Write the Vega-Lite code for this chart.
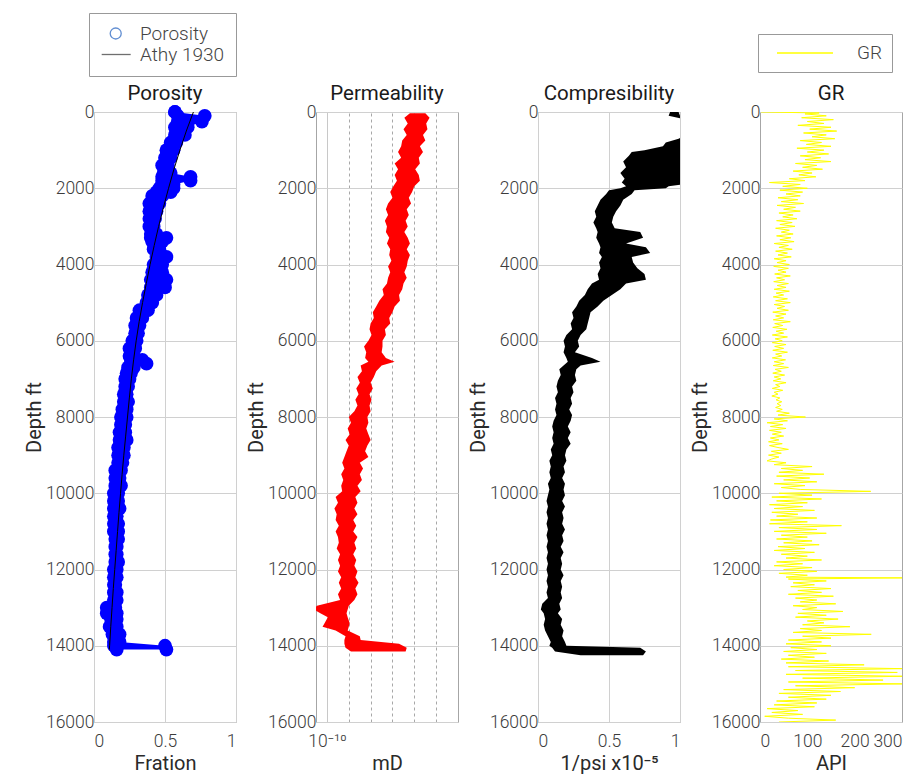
{
  "$schema": "https://vega.github.io/schema/vega-lite/v6.json",
  "background": "white",
  "padding": {"left": 23, "top": 12, "right": 0, "bottom": 5},
  "config": {
    "font": "Roboto",
    "view": {"stroke": "#a6a6a6", "strokeWidth": 1},
    "axis": {"domain": false, "ticks": false, "tickSize": 0, "gridColor": "#d0d0d0", "gridWidth": 1, "labelFontSize": 17.5, "labelColor": "#3c3c3c", "labelFontWeight": 300, "titleFontSize": 20, "titleFontWeight": 400, "titleColor": "#2a2a2a", "labelPadding": 2},
    "axisX": {"labelPadding": 10, "titlePadding": 4},
    "axisY": {"labelPadding": 0, "titlePadding": 1},
    "title": {"fontSize": 20.5, "fontWeight": 400, "color": "#1a1a1a", "offset": -1},
    "legend": {"labelFontSize": 19, "labelColor": "#444444", "labelFontWeight": 300}
  },
  "datasets": {
    "por": [
      {"depth":0,"lo":0.57,"hi":0.57},{"depth":100,"lo":0.59,"hi":0.78},{"depth":250,"lo":0.59,"hi":0.76},{"depth":400,"lo":0.57,"hi":0.66},{"depth":600,"lo":0.57,"hi":0.64},{"depth":800,"lo":0.54,"hi":0.58},{"depth":1000,"lo":0.51,"hi":0.56},{"depth":1200,"lo":0.50,"hi":0.54},{"depth":1400,"lo":0.48,"hi":0.52},{"depth":1600,"lo":0.49,"hi":0.54},{"depth":1700,"lo":0.48,"hi":0.68},{"depth":1800,"lo":0.48,"hi":0.68},{"depth":1900,"lo":0.48,"hi":0.56},{"depth":2000,"lo":0.46,"hi":0.56},{"depth":2100,"lo":0.44,"hi":0.54},{"depth":2200,"lo":0.41,"hi":0.48},{"depth":2400,"lo":0.39,"hi":0.46},{"depth":2600,"lo":0.39,"hi":0.44},{"depth":2800,"lo":0.39,"hi":0.43},{"depth":3000,"lo":0.39,"hi":0.42},{"depth":3200,"lo":0.40,"hi":0.44},{"depth":3300,"lo":0.40,"hi":0.51},{"depth":3400,"lo":0.41,"hi":0.48},{"depth":3600,"lo":0.42,"hi":0.46},{"depth":3800,"lo":0.44,"hi":0.51},{"depth":4000,"lo":0.42,"hi":0.48},{"depth":4200,"lo":0.41,"hi":0.48},{"depth":4400,"lo":0.40,"hi":0.51},{"depth":4600,"lo":0.40,"hi":0.50},{"depth":4800,"lo":0.38,"hi":0.44},{"depth":5000,"lo":0.37,"hi":0.41},{"depth":5200,"lo":0.32,"hi":0.38},{"depth":5400,"lo":0.30,"hi":0.34},{"depth":5600,"lo":0.29,"hi":0.32},{"depth":5800,"lo":0.29,"hi":0.31},{"depth":6000,"lo":0.27,"hi":0.30},{"depth":6200,"lo":0.25,"hi":0.29},{"depth":6400,"lo":0.25,"hi":0.28},{"depth":6500,"lo":0.26,"hi":0.34},{"depth":6600,"lo":0.26,"hi":0.37},{"depth":6700,"lo":0.24,"hi":0.28},{"depth":6850,"lo":0.23,"hi":0.26},{"depth":7000,"lo":0.22,"hi":0.25},{"depth":7200,"lo":0.22,"hi":0.24},{"depth":7400,"lo":0.21,"hi":0.23},{"depth":7600,"lo":0.21,"hi":0.24},{"depth":7800,"lo":0.20,"hi":0.23},{"depth":8000,"lo":0.19,"hi":0.23},{"depth":8200,"lo":0.19,"hi":0.22},{"depth":8400,"lo":0.18,"hi":0.22},{"depth":8600,"lo":0.18,"hi":0.23},{"depth":8800,"lo":0.17,"hi":0.21},{"depth":9000,"lo":0.17,"hi":0.21},{"depth":9200,"lo":0.17,"hi":0.20},{"depth":9400,"lo":0.15,"hi":0.19},{"depth":9600,"lo":0.15,"hi":0.18},{"depth":9800,"lo":0.15,"hi":0.19},{"depth":10000,"lo":0.14,"hi":0.17},{"depth":10200,"lo":0.14,"hi":0.17},{"depth":10400,"lo":0.14,"hi":0.18},{"depth":10600,"lo":0.14,"hi":0.16},{"depth":10800,"lo":0.14,"hi":0.17},{"depth":11000,"lo":0.14,"hi":0.17},{"depth":11200,"lo":0.15,"hi":0.17},{"depth":11400,"lo":0.15,"hi":0.16},{"depth":11600,"lo":0.15,"hi":0.16},{"depth":11800,"lo":0.15,"hi":0.17},{"depth":12000,"lo":0.14,"hi":0.16},{"depth":12200,"lo":0.14,"hi":0.16},{"depth":12400,"lo":0.14,"hi":0.15},{"depth":12600,"lo":0.14,"hi":0.16},{"depth":12800,"lo":0.14,"hi":0.16},{"depth":13000,"lo":0.09,"hi":0.15},{"depth":13150,"lo":0.09,"hi":0.16},{"depth":13300,"lo":0.12,"hi":0.16},{"depth":13500,"lo":0.11,"hi":0.16},{"depth":13700,"lo":0.13,"hi":0.18},{"depth":13900,"lo":0.14,"hi":0.18},{"depth":14000,"lo":0.14,"hi":0.50},{"depth":14100,"lo":0.16,"hi":0.51}
    ],
    "athy": [
      {"depth":0,"phi":0.70},{"depth":500,"phi":0.650},{"depth":1000,"phi":0.605},{"depth":1500,"phi":0.563},{"depth":2000,"phi":0.525},{"depth":2500,"phi":0.489},{"depth":3000,"phi":0.455},{"depth":3500,"phi":0.424},{"depth":4000,"phi":0.395},{"depth":4500,"phi":0.368},{"depth":5000,"phi":0.342},{"depth":5500,"phi":0.318},{"depth":6000,"phi":0.297},{"depth":6500,"phi":0.279},{"depth":7000,"phi":0.263},{"depth":7500,"phi":0.249},{"depth":8000,"phi":0.236},{"depth":8500,"phi":0.223},{"depth":9000,"phi":0.210},{"depth":9500,"phi":0.198},{"depth":10000,"phi":0.187},{"depth":10500,"phi":0.176},{"depth":11000,"phi":0.166},{"depth":11500,"phi":0.156},{"depth":12000,"phi":0.146},{"depth":12500,"phi":0.136},{"depth":13000,"phi":0.127},{"depth":13500,"phi":0.118},{"depth":14000,"phi":0.110},{"depth":14100,"phi":0.108}
    ],
    "perm": [
      {"depth":30,"lo":6.3e-7,"hi":3.2e-6},{"depth":150,"lo":3.5e-7,"hi":5.0e-6},{"depth":300,"lo":5.0e-7,"hi":3.5e-6},{"depth":450,"lo":3.2e-7,"hi":4.0e-6},{"depth":600,"lo":4.5e-7,"hi":2.5e-6},{"depth":750,"lo":2.8e-7,"hi":3.2e-6},{"depth":900,"lo":2.5e-7,"hi":1.8e-6},{"depth":1050,"lo":1.8e-7,"hi":2.5e-6},{"depth":1200,"lo":2.5e-7,"hi":1.6e-6},{"depth":1350,"lo":1.26e-7,"hi":1.8e-6},{"depth":1500,"lo":1.8e-7,"hi":1.1e-6},{"depth":1650,"lo":1.26e-7,"hi":1.6e-6},{"depth":1800,"lo":1.6e-7,"hi":1.8e-6},{"depth":1950,"lo":1.1e-7,"hi":1.0e-6},{"depth":2100,"lo":7.9e-8,"hi":7.9e-7},{"depth":2250,"lo":1.0e-7,"hi":5.6e-7},{"depth":2400,"lo":6.3e-8,"hi":7.1e-7},{"depth":2550,"lo":5.0e-8,"hi":4.5e-7},{"depth":2700,"lo":6.3e-8,"hi":5.6e-7},{"depth":2850,"lo":4.5e-8,"hi":4.0e-7},{"depth":3000,"lo":5.6e-8,"hi":5.0e-7},{"depth":3150,"lo":5.0e-8,"hi":3.5e-7},{"depth":3300,"lo":7.1e-8,"hi":5.0e-7},{"depth":3450,"lo":5.6e-8,"hi":6.3e-7},{"depth":3600,"lo":7.9e-8,"hi":4.5e-7},{"depth":3750,"lo":7.1e-8,"hi":6.3e-7},{"depth":3900,"lo":8.9e-8,"hi":5.0e-7},{"depth":4050,"lo":6.3e-8,"hi":4.5e-7},{"depth":4200,"lo":7.9e-8,"hi":3.5e-7},{"depth":4350,"lo":6.3e-8,"hi":4.5e-7},{"depth":4500,"lo":5.6e-8,"hi":3.2e-7},{"depth":4650,"lo":3.5e-8,"hi":2.8e-7},{"depth":4800,"lo":4.0e-8,"hi":2.0e-7},{"depth":4950,"lo":2.5e-8,"hi":2.2e-7},{"depth":5100,"lo":1.8e-8,"hi":1.26e-7},{"depth":5250,"lo":1.26e-8,"hi":1.0e-7},{"depth":5400,"lo":1.4e-8,"hi":7.1e-8},{"depth":5550,"lo":1.0e-8,"hi":7.9e-8},{"depth":5700,"lo":8.9e-9,"hi":4.5e-8},{"depth":5850,"lo":1.1e-8,"hi":5.0e-8},{"depth":6000,"lo":7.9e-9,"hi":3.5e-8},{"depth":6150,"lo":5.0e-9,"hi":3.5e-8},{"depth":6300,"lo":6.3e-9,"hi":3.2e-8},{"depth":6450,"lo":5.6e-9,"hi":5.0e-8},{"depth":6550,"lo":7.9e-9,"hi":1.26e-7},{"depth":6650,"lo":3.5e-9,"hi":3.2e-8},{"depth":6800,"lo":4.0e-9,"hi":1.8e-8},{"depth":6950,"lo":2.5e-9,"hi":1.4e-8},{"depth":7100,"lo":3.2e-9,"hi":1.0e-8},{"depth":7250,"lo":2.2e-9,"hi":1.26e-8},{"depth":7400,"lo":2.8e-9,"hi":8.9e-9},{"depth":7550,"lo":2.0e-9,"hi":1.1e-8},{"depth":7700,"lo":2.5e-9,"hi":8.9e-9},{"depth":7850,"lo":1.8e-9,"hi":1.0e-8},{"depth":8000,"lo":1.0e-9,"hi":7.1e-9},{"depth":8150,"lo":1.26e-9,"hi":7.9e-9},{"depth":8300,"lo":8.9e-10,"hi":6.3e-9},{"depth":8450,"lo":1.1e-9,"hi":7.9e-9},{"depth":8600,"lo":7.1e-10,"hi":1.0e-8},{"depth":8750,"lo":1.0e-9,"hi":7.1e-9},{"depth":8900,"lo":7.9e-10,"hi":5.6e-9},{"depth":9050,"lo":6.3e-10,"hi":7.9e-9},{"depth":9200,"lo":5.0e-10,"hi":3.2e-9},{"depth":9350,"lo":6.3e-10,"hi":4.5e-9},{"depth":9500,"lo":4.5e-10,"hi":3.2e-9},{"depth":9650,"lo":5.6e-10,"hi":4.0e-9},{"depth":9800,"lo":4.5e-10,"hi":2.5e-9},{"depth":9950,"lo":5.0e-10,"hi":3.5e-9},{"depth":10100,"lo":2.5e-10,"hi":2.0e-9},{"depth":10250,"lo":3.2e-10,"hi":2.5e-9},{"depth":10400,"lo":2.2e-10,"hi":1.8e-9},{"depth":10550,"lo":2.8e-10,"hi":2.5e-9},{"depth":10700,"lo":2.5e-10,"hi":1.6e-9},{"depth":10850,"lo":3.5e-10,"hi":2.2e-9},{"depth":11000,"lo":2.5e-10,"hi":1.6e-9},{"depth":11150,"lo":3.2e-10,"hi":2.5e-9},{"depth":11300,"lo":3.5e-10,"hi":1.8e-9},{"depth":11450,"lo":2.8e-10,"hi":2.2e-9},{"depth":11600,"lo":4.0e-10,"hi":1.6e-9},{"depth":11750,"lo":3.2e-10,"hi":2.2e-9},{"depth":11900,"lo":4.0e-10,"hi":1.8e-9},{"depth":12050,"lo":3.2e-10,"hi":2.5e-9},{"depth":12200,"lo":4.5e-10,"hi":2.0e-9},{"depth":12350,"lo":3.5e-10,"hi":2.8e-9},{"depth":12500,"lo":4.5e-10,"hi":2.0e-9},{"depth":12650,"lo":3.2e-10,"hi":2.5e-9},{"depth":12800,"lo":4.0e-10,"hi":1.8e-9},{"depth":12950,"lo":3.5e-11,"hi":1.0e-9},{"depth":13050,"lo":2.5e-11,"hi":8.9e-10},{"depth":13150,"lo":5.0e-11,"hi":7.9e-10},{"depth":13250,"lo":1.1e-10,"hi":8.9e-10},{"depth":13400,"lo":7.9e-11,"hi":1.1e-9},{"depth":13500,"lo":6.3e-11,"hi":1.0e-9},{"depth":13600,"lo":2.5e-10,"hi":8.9e-10},{"depth":13750,"lo":7.1e-10,"hi":3.2e-9},{"depth":13850,"lo":6.3e-10,"hi":3.5e-9},{"depth":13950,"lo":6.3e-10,"hi":2.0e-7},{"depth":14050,"lo":7.1e-10,"hi":4.5e-7},{"depth":14150,"lo":1.26e-9,"hi":4.0e-7}
    ],
    "comp": [
      {"depth":0,"lo":0.93,"hi":0.99},{"depth":100,"lo":0.92,"hi":1.0},{"depth":200,"lo":1.05,"hi":1.25},{"depth":400,"lo":1.08,"hi":1.3},{"depth":600,"lo":1.04,"hi":1.25},{"depth":700,"lo":0.99,"hi":1.2},{"depth":800,"lo":0.9,"hi":1.1},{"depth":900,"lo":0.88,"hi":1.1},{"depth":1000,"lo":0.75,"hi":1.1},{"depth":1050,"lo":0.66,"hi":1.1},{"depth":1150,"lo":0.64,"hi":1.1},{"depth":1300,"lo":0.6,"hi":1.1},{"depth":1450,"lo":0.62,"hi":1.1},{"depth":1600,"lo":0.58,"hi":1.1},{"depth":1750,"lo":0.61,"hi":1.1},{"depth":1850,"lo":0.59,"hi":1.1},{"depth":1950,"lo":0.62,"hi":0.92},{"depth":2000,"lo":0.58,"hi":0.9},{"depth":2050,"lo":0.5,"hi":0.68},{"depth":2150,"lo":0.48,"hi":0.66},{"depth":2300,"lo":0.44,"hi":0.6},{"depth":2450,"lo":0.42,"hi":0.58},{"depth":2600,"lo":0.4,"hi":0.55},{"depth":2750,"lo":0.41,"hi":0.53},{"depth":2900,"lo":0.39,"hi":0.52},{"depth":3050,"lo":0.41,"hi":0.54},{"depth":3150,"lo":0.42,"hi":0.72},{"depth":3300,"lo":0.41,"hi":0.74},{"depth":3450,"lo":0.43,"hi":0.62},{"depth":3550,"lo":0.44,"hi":0.76},{"depth":3700,"lo":0.43,"hi":0.79},{"depth":3800,"lo":0.45,"hi":0.66},{"depth":3950,"lo":0.43,"hi":0.67},{"depth":4100,"lo":0.44,"hi":0.7},{"depth":4250,"lo":0.42,"hi":0.75},{"depth":4400,"lo":0.43,"hi":0.76},{"depth":4500,"lo":0.38,"hi":0.62},{"depth":4650,"lo":0.35,"hi":0.58},{"depth":4800,"lo":0.33,"hi":0.52},{"depth":4950,"lo":0.29,"hi":0.46},{"depth":5100,"lo":0.27,"hi":0.42},{"depth":5250,"lo":0.24,"hi":0.37},{"depth":5400,"lo":0.25,"hi":0.36},{"depth":5550,"lo":0.23,"hi":0.35},{"depth":5700,"lo":0.24,"hi":0.34},{"depth":5850,"lo":0.2,"hi":0.3},{"depth":6000,"lo":0.18,"hi":0.28},{"depth":6150,"lo":0.19,"hi":0.29},{"depth":6300,"lo":0.18,"hi":0.26},{"depth":6450,"lo":0.2,"hi":0.38},{"depth":6550,"lo":0.21,"hi":0.44},{"depth":6650,"lo":0.18,"hi":0.3},{"depth":6750,"lo":0.15,"hi":0.27},{"depth":6900,"lo":0.16,"hi":0.26},{"depth":7050,"lo":0.14,"hi":0.27},{"depth":7200,"lo":0.13,"hi":0.24},{"depth":7350,"lo":0.14,"hi":0.25},{"depth":7500,"lo":0.12,"hi":0.23},{"depth":7650,"lo":0.13,"hi":0.24},{"depth":7800,"lo":0.12,"hi":0.22},{"depth":7950,"lo":0.13,"hi":0.24},{"depth":8100,"lo":0.11,"hi":0.23},{"depth":8250,"lo":0.1,"hi":0.21},{"depth":8400,"lo":0.11,"hi":0.23},{"depth":8550,"lo":0.1,"hi":0.21},{"depth":8700,"lo":0.11,"hi":0.23},{"depth":8850,"lo":0.09,"hi":0.2},{"depth":9000,"lo":0.1,"hi":0.19},{"depth":9150,"lo":0.08,"hi":0.2},{"depth":9300,"lo":0.09,"hi":0.18},{"depth":9450,"lo":0.08,"hi":0.19},{"depth":9600,"lo":0.09,"hi":0.17},{"depth":9750,"lo":0.07,"hi":0.19},{"depth":9900,"lo":0.08,"hi":0.18},{"depth":10050,"lo":0.07,"hi":0.19},{"depth":10200,"lo":0.06,"hi":0.17},{"depth":10350,"lo":0.07,"hi":0.19},{"depth":10500,"lo":0.06,"hi":0.17},{"depth":10650,"lo":0.07,"hi":0.18},{"depth":10800,"lo":0.06,"hi":0.17},{"depth":10950,"lo":0.07,"hi":0.19},{"depth":11100,"lo":0.06,"hi":0.17},{"depth":11250,"lo":0.07,"hi":0.18},{"depth":11400,"lo":0.06,"hi":0.16},{"depth":11550,"lo":0.07,"hi":0.18},{"depth":11700,"lo":0.06,"hi":0.16},{"depth":11850,"lo":0.07,"hi":0.17},{"depth":12000,"lo":0.06,"hi":0.16},{"depth":12150,"lo":0.07,"hi":0.18},{"depth":12300,"lo":0.06,"hi":0.16},{"depth":12450,"lo":0.07,"hi":0.17},{"depth":12600,"lo":0.06,"hi":0.16},{"depth":12750,"lo":0.07,"hi":0.17},{"depth":12900,"lo":0.03,"hi":0.15},{"depth":13050,"lo":0.02,"hi":0.16},{"depth":13150,"lo":0.04,"hi":0.14},{"depth":13300,"lo":0.05,"hi":0.17},{"depth":13450,"lo":0.04,"hi":0.16},{"depth":13600,"lo":0.05,"hi":0.18},{"depth":13750,"lo":0.07,"hi":0.17},{"depth":13900,"lo":0.09,"hi":0.19},{"depth":14000,"lo":0.08,"hi":0.2},{"depth":14050,"lo":0.1,"hi":0.72},{"depth":14150,"lo":0.12,"hi":0.76},{"depth":14250,"lo":0.3,"hi":0.74}
    ],
    "gr": [
      {"depth":0,"api":2},{"depth":25,"api":125},{"depth":50,"api":95},{"depth":100,"api":140},{"depth":150,"api":88},{"depth":200,"api":155},{"depth":250,"api":100},{"depth":300,"api":135},{"depth":350,"api":80},{"depth":400,"api":150},{"depth":450,"api":105},{"depth":500,"api":162},{"depth":550,"api":92},{"depth":600,"api":140},{"depth":650,"api":110},{"depth":700,"api":158},{"depth":750,"api":85},{"depth":800,"api":130},{"depth":850,"api":98},{"depth":900,"api":150},{"depth":950,"api":78},{"depth":1000,"api":135},{"depth":1050,"api":100},{"depth":1100,"api":145},{"depth":1150,"api":85},{"depth":1200,"api":128},{"depth":1250,"api":95},{"depth":1300,"api":150},{"depth":1350,"api":75},{"depth":1400,"api":120},{"depth":1450,"api":90},{"depth":1500,"api":132},{"depth":1550,"api":70},{"depth":1600,"api":110},{"depth":1650,"api":82},{"depth":1700,"api":118},{"depth":1750,"api":62},{"depth":1800,"api":95},{"depth":1850,"api":20},{"depth":1900,"api":85},{"depth":1950,"api":48},{"depth":2000,"api":100},{"depth":2050,"api":42},{"depth":2100,"api":90},{"depth":2150,"api":55},{"depth":2200,"api":85},{"depth":2250,"api":38},{"depth":2300,"api":80},{"depth":2350,"api":45},{"depth":2400,"api":92},{"depth":2450,"api":36},{"depth":2500,"api":75},{"depth":2550,"api":50},{"depth":2600,"api":85},{"depth":2650,"api":40},{"depth":2700,"api":70},{"depth":2750,"api":48},{"depth":2800,"api":78},{"depth":2850,"api":35},{"depth":2900,"api":68},{"depth":2950,"api":42},{"depth":3000,"api":74},{"depth":3050,"api":33},{"depth":3100,"api":62},{"depth":3150,"api":45},{"depth":3200,"api":70},{"depth":3250,"api":35},{"depth":3300,"api":65},{"depth":3350,"api":42},{"depth":3400,"api":72},{"depth":3450,"api":30},{"depth":3500,"api":60},{"depth":3550,"api":40},{"depth":3600,"api":68},{"depth":3650,"api":33},{"depth":3700,"api":58},{"depth":3750,"api":38},{"depth":3800,"api":66},{"depth":3850,"api":30},{"depth":3900,"api":55},{"depth":3950,"api":36},{"depth":4000,"api":62},{"depth":4050,"api":29},{"depth":4100,"api":60},{"depth":4150,"api":38},{"depth":4200,"api":55},{"depth":4250,"api":31},{"depth":4300,"api":64},{"depth":4350,"api":35},{"depth":4400,"api":52},{"depth":4450,"api":29},{"depth":4500,"api":60},{"depth":4550,"api":36},{"depth":4600,"api":55},{"depth":4650,"api":30},{"depth":4700,"api":62},{"depth":4750,"api":34},{"depth":4800,"api":50},{"depth":4850,"api":28},{"depth":4900,"api":58},{"depth":4950,"api":33},{"depth":5000,"api":64},{"depth":5050,"api":30},{"depth":5100,"api":52},{"depth":5150,"api":36},{"depth":5200,"api":60},{"depth":5250,"api":27},{"depth":5300,"api":55},{"depth":5350,"api":33},{"depth":5400,"api":50},{"depth":5450,"api":28},{"depth":5500,"api":64},{"depth":5550,"api":31},{"depth":5600,"api":48},{"depth":5650,"api":27},{"depth":5700,"api":57},{"depth":5750,"api":34},{"depth":5800,"api":50},{"depth":5850,"api":26},{"depth":5900,"api":58},{"depth":5950,"api":32},{"depth":6000,"api":47},{"depth":6050,"api":26},{"depth":6100,"api":55},{"depth":6150,"api":31},{"depth":6200,"api":50},{"depth":6250,"api":27},{"depth":6300,"api":58},{"depth":6350,"api":33},{"depth":6400,"api":46},{"depth":6450,"api":26},{"depth":6500,"api":54},{"depth":6550,"api":30},{"depth":6600,"api":50},{"depth":6650,"api":28},{"depth":6700,"api":60},{"depth":6750,"api":32},{"depth":6800,"api":45},{"depth":6850,"api":27},{"depth":6900,"api":52},{"depth":6950,"api":30},{"depth":7000,"api":44},{"depth":7050,"api":28},{"depth":7100,"api":55},{"depth":7150,"api":33},{"depth":7200,"api":42},{"depth":7250,"api":26},{"depth":7300,"api":48},{"depth":7350,"api":30},{"depth":7400,"api":38},{"depth":7450,"api":25},{"depth":7500,"api":42},{"depth":7550,"api":34},{"depth":7600,"api":46},{"depth":7650,"api":36},{"depth":7700,"api":44},{"depth":7750,"api":33},{"depth":7800,"api":47},{"depth":7850,"api":35},{"depth":7900,"api":62},{"depth":7950,"api":38},{"depth":8000,"api":96},{"depth":8050,"api":30},{"depth":8100,"api":58},{"depth":8150,"api":15},{"depth":8200,"api":48},{"depth":8250,"api":22},{"depth":8300,"api":55},{"depth":8350,"api":20},{"depth":8400,"api":45},{"depth":8450,"api":26},{"depth":8500,"api":50},{"depth":8550,"api":22},{"depth":8600,"api":40},{"depth":8650,"api":18},{"depth":8700,"api":47},{"depth":8750,"api":20},{"depth":8800,"api":38},{"depth":8850,"api":60},{"depth":8900,"api":24},{"depth":8950,"api":45},{"depth":9000,"api":18},{"depth":9050,"api":40},{"depth":9100,"api":25},{"depth":9150,"api":15},{"depth":9200,"api":55},{"depth":9250,"api":30},{"depth":9300,"api":110},{"depth":9350,"api":45},{"depth":9400,"api":90},{"depth":9450,"api":40},{"depth":9500,"api":135},{"depth":9550,"api":35},{"depth":9600,"api":105},{"depth":9650,"api":50},{"depth":9700,"api":120},{"depth":9750,"api":30},{"depth":9800,"api":95},{"depth":9850,"api":45},{"depth":9900,"api":85},{"depth":9950,"api":234},{"depth":10000,"api":40},{"depth":10050,"api":110},{"depth":10100,"api":25},{"depth":10150,"api":130},{"depth":10200,"api":35},{"depth":10250,"api":100},{"depth":10300,"api":20},{"depth":10350,"api":90},{"depth":10400,"api":30},{"depth":10450,"api":115},{"depth":10500,"api":25},{"depth":10550,"api":80},{"depth":10600,"api":35},{"depth":10650,"api":120},{"depth":10700,"api":22},{"depth":10750,"api":100},{"depth":10800,"api":20},{"depth":10850,"api":172},{"depth":10900,"api":40},{"depth":10950,"api":120},{"depth":11000,"api":30},{"depth":11050,"api":140},{"depth":11100,"api":45},{"depth":11150,"api":100},{"depth":11200,"api":35},{"depth":11250,"api":110},{"depth":11300,"api":50},{"depth":11350,"api":125},{"depth":11400,"api":38},{"depth":11450,"api":95},{"depth":11500,"api":30},{"depth":11550,"api":115},{"depth":11600,"api":45},{"depth":11650,"api":100},{"depth":11700,"api":55},{"depth":11750,"api":130},{"depth":11800,"api":35},{"depth":11850,"api":90},{"depth":11900,"api":30},{"depth":11950,"api":110},{"depth":12000,"api":50},{"depth":12050,"api":120},{"depth":12100,"api":40},{"depth":12150,"api":100},{"depth":12200,"api":55},{"depth":12220,"api":300},{"depth":12250,"api":60},{"depth":12300,"api":140},{"depth":12350,"api":70},{"depth":12400,"api":115},{"depth":12450,"api":65},{"depth":12500,"api":150},{"depth":12550,"api":80},{"depth":12600,"api":130},{"depth":12650,"api":60},{"depth":12700,"api":155},{"depth":12750,"api":75},{"depth":12800,"api":120},{"depth":12850,"api":85},{"depth":12900,"api":160},{"depth":12950,"api":70},{"depth":13000,"api":120},{"depth":13050,"api":90},{"depth":13100,"api":175},{"depth":13150,"api":80},{"depth":13200,"api":140},{"depth":13250,"api":75},{"depth":13300,"api":165},{"depth":13350,"api":100},{"depth":13400,"api":135},{"depth":13450,"api":90},{"depth":13500,"api":190},{"depth":13550,"api":85},{"depth":13600,"api":130},{"depth":13650,"api":70},{"depth":13700,"api":235},{"depth":13750,"api":90},{"depth":13800,"api":150},{"depth":13850,"api":60},{"depth":13900,"api":130},{"depth":13950,"api":55},{"depth":14000,"api":150},{"depth":14050,"api":65},{"depth":14100,"api":120},{"depth":14150,"api":50},{"depth":14200,"api":140},{"depth":14250,"api":60},{"depth":14300,"api":115},{"depth":14350,"api":45},{"depth":14400,"api":145},{"depth":14450,"api":55},{"depth":14500,"api":220},{"depth":14550,"api":60},{"depth":14600,"api":300},{"depth":14650,"api":75},{"depth":14700,"api":290},{"depth":14750,"api":55},{"depth":14800,"api":300},{"depth":14850,"api":90},{"depth":14900,"api":260},{"depth":14950,"api":60},{"depth":15000,"api":300},{"depth":15050,"api":75},{"depth":15100,"api":200},{"depth":15150,"api":50},{"depth":15200,"api":170},{"depth":15250,"api":40},{"depth":15300,"api":150},{"depth":15350,"api":60},{"depth":15400,"api":140},{"depth":15450,"api":35},{"depth":15500,"api":120},{"depth":15550,"api":30},{"depth":15600,"api":115},{"depth":15650,"api":15},{"depth":15700,"api":80},{"depth":15750,"api":25},{"depth":15800,"api":90},{"depth":15850,"api":10},{"depth":15900,"api":60},{"depth":15950,"api":160},{"depth":16000,"api":40}
    ]
  },
  "spacing": 80,
  "bounds": "flush",
  "hconcat": [
    {
      "title": "Porosity",
      "width": 142,
      "height": 610,
      "layer": [
        {
          "data": {"name": "por"},
          "mark": {"type": "area", "orient": "horizontal", "color": "#0000ff", "opacity": 1, "clip": true},
          "encoding": {
            "y": {"field": "depth", "type": "quantitative", "title": "Depth ft", "scale": {"domain": [0, 16000], "reverse": true, "nice": false}, "axis": {"values": [0,2000,4000,6000,8000,10000,12000,14000,16000], "format": "d"}},
            "x": {"field": "lo", "type": "quantitative", "title": "Fration", "scale": {"domain": [0, 1], "nice": false}, "axis": {"values": [0, 0.5, 1], "format": "~g"}},
            "x2": {"field": "hi"}
          }
        },
        {
          "data": {"name": "por"},
          "mark": {"type": "point", "filled": true, "color": "#0000ff", "size": 190, "opacity": 1},
          "encoding": {
            "y": {"field": "depth", "type": "quantitative", "title": "Depth ft"},
            "x": {"field": "lo", "type": "quantitative", "title": "Fration"}
          }
        },
        {
          "data": {"name": "por"},
          "mark": {"type": "point", "filled": true, "color": "#0000ff", "size": 190, "opacity": 1},
          "encoding": {
            "y": {"field": "depth", "type": "quantitative", "title": "Depth ft"},
            "x": {"field": "hi", "type": "quantitative", "title": "Fration"}
          }
        },
        {
          "data": {"name": "athy"},
          "mark": {"type": "line", "color": "#000000", "strokeWidth": 1},
          "encoding": {
            "y": {"field": "depth", "type": "quantitative", "title": "Depth ft"},
            "x": {"field": "phi", "type": "quantitative", "title": "Fration"},
            "order": {"field": "depth", "type": "quantitative"}
          }
        },
        {
          "data": {"values": []},
          "mark": {"type": "point", "filled": false, "strokeWidth": 1.3},
          "encoding": {
            "shape": {
              "field": "series", "type": "nominal",
              "scale": {"domain": ["Porosity", "Athy 1930"], "range": ["M2.13,0A1,1 0 1,1 0.13,0A1,1 0 1,1 2.13,0Z", "M-1.42,0H3.85"]},
              "legend": {"orient": "none", "legendX": -5, "legendY": -99, "title": null, "strokeColor": "#999999", "fillColor": "white", "padding": 11, "symbolSize": 121, "symbolStrokeWidth": 1.3, "labelOffset": 21, "rowPadding": 1}
            },
            "color": {
              "field": "series", "type": "nominal",
              "scale": {"domain": ["Porosity", "Athy 1930"], "range": ["#1f5fbf", "#333333"]},
              "legend": {"orient": "none", "legendX": -5, "legendY": -99, "title": null, "strokeColor": "#999999", "fillColor": "white", "padding": 11, "symbolSize": 121, "symbolStrokeWidth": 1.3, "labelOffset": 21, "rowPadding": 1}
            }
          }
        }
      ]
    },
    {
      "title": "Permeability",
      "width": 142,
      "height": 610,
      "data": {"name": "perm"},
      "mark": {"type": "area", "orient": "horizontal", "color": "#ff0000", "opacity": 1, "clip": true},
      "encoding": {
        "y": {"field": "depth", "type": "quantitative", "title": "Depth ft", "scale": {"domain": [0, 16000], "reverse": true, "nice": false}, "axis": {"values": [0,2000,4000,6000,8000,10000,12000,14000,16000], "format": "d"}},
        "x": {"field": "lo", "type": "quantitative", "title": "mD", "scale": {"type": "log", "domain": [3.1623e-11, 1e-4], "nice": false},
          "axis": {"values": [1e-10, 1e-9, 1e-8, 1e-7, 1e-6, 1e-5], "labelExpr": "datum.value < 2e-10 ? '10⁻¹⁰' : ''", "gridDash": {"condition": {"test": "datum.value < 2e-10", "value": []}, "value": [3, 3]}, "gridColor": {"condition": {"test": "datum.value < 2e-10", "value": "#c8c8c8"}, "value": "#a8a8a8"}}},
        "x2": {"field": "hi"}
      }
    },
    {
      "title": "Compresibility",
      "width": 142,
      "height": 610,
      "data": {"name": "comp"},
      "mark": {"type": "area", "orient": "horizontal", "color": "#000000", "opacity": 1, "clip": true},
      "encoding": {
        "y": {"field": "depth", "type": "quantitative", "title": "Depth ft", "scale": {"domain": [0, 16000], "reverse": true, "nice": false}, "axis": {"values": [0,2000,4000,6000,8000,10000,12000,14000,16000], "format": "d"}},
        "x": {"field": "lo", "type": "quantitative", "title": "1/psi x10⁻⁵", "scale": {"domain": [0, 1], "nice": false}, "axis": {"values": [0, 0.5, 1], "format": "~g"}},
        "x2": {"field": "hi"}
      }
    },
    {
      "title": "GR",
      "width": 142,
      "height": 610,
      "layer": [
        {
          "mark": {"type": "rule", "color": "#6b6bf0", "strokeWidth": 1.5},
          "encoding": {"x": {"datum": 222, "type": "quantitative", "title": "API", "scale": {"domain": [0, 300], "nice": false}, "axis": {"values": [0, 100, 200, 300]}}}
        },
        {
          "data": {"name": "gr"},
          "mark": {"type": "line", "strokeWidth": 1, "clip": true},
          "encoding": {
            "y": {"field": "depth", "type": "quantitative", "title": "Depth ft", "scale": {"domain": [0, 16000], "reverse": true, "nice": false}, "axis": {"values": [0,2000,4000,6000,8000,10000,12000,14000,16000], "format": "d"}},
            "x": {"field": "api", "type": "quantitative", "title": "API"},
            "order": {"field": "depth", "type": "quantitative"},
            "stroke": {
              "datum": "GR", "type": "nominal",
              "scale": {"domain": ["GR"], "range": ["#ffff00"]},
              "legend": {"orient": "none", "legendX": 664, "legendY": -78, "title": null, "strokeColor": "#999999", "fillColor": "white", "padding": 9, "symbolType": "M0,0H6.22", "symbolSize": 324, "symbolStrokeWidth": 1.5, "labelOffset": 70}
            }
          }
        },
        {
          "mark": {"type": "rule", "color": "#f07878", "strokeWidth": 2},
          "encoding": {"x": {"datum": 30, "type": "quantitative", "title": "API"}}
        }
      ]
    }
  ]
}
